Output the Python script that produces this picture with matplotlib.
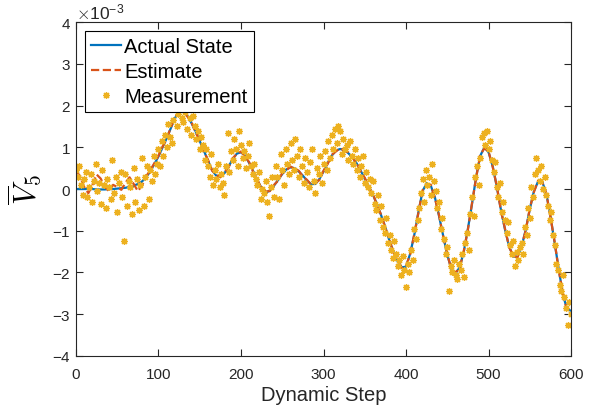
import numpy as np
import matplotlib.pyplot as plt
from matplotlib.ticker import ScalarFormatter

# values in units of 1e-3
state_steps = np.arange(0, 601, 5)
actual_state = [
    0.00, 0.00, 0.00, 0.00, 0.00, -0.01, -0.01, -0.01, 0.00, 0.00,
    0.01, 0.02, 0.03, 0.05, 0.08, 0.12, 0.18, 0.28, 0.42, 0.60,
    0.78, 1.00, 1.22, 1.46, 1.70, 1.86, 1.88, 1.76, 1.58, 1.38,
    1.15, 0.92, 0.68, 0.45, 0.32, 0.30, 0.38, 0.54, 0.72, 0.85,
    0.88, 0.80, 0.62, 0.42, 0.20, 0.02, -0.08, -0.04, 0.08, 0.22,
    0.36, 0.47, 0.52, 0.50, 0.42, 0.32, 0.20, 0.12, 0.12, 0.24,
    0.42, 0.62, 0.80, 0.92, 0.96, 0.94, 0.86, 0.76, 0.62, 0.44,
    0.25, 0.06, -0.14, -0.38, -0.64, -0.92, -1.25, -1.52, -1.74, -1.88,
    -1.86, -1.55, -1.10, -0.55, -0.05, 0.14, 0.08, -0.20, -0.65, -1.12,
    -1.58, -1.92, -2.02, -1.88, -1.50, -0.95, -0.35, 0.30, 0.80, 1.00,
    0.88, 0.55, 0.05, -0.50, -0.98, -1.38, -1.62, -1.62, -1.38, -0.98,
    -0.48, -0.05, 0.18, 0.18, -0.12, -0.65, -1.28, -1.92, -2.52, -2.88,
    -2.92,
]
estimate = [
    0.45, 0.30, 0.05, -0.10, 0.10, 0.35, 0.25, 0.05, -0.05, 0.10,
    0.05, -0.02, 0.15, 0.28, 0.12, -0.05, 0.08, 0.30, 0.45, 0.62,
    0.80, 1.02, 1.20, 1.48, 1.72, 1.84, 1.86, 1.74, 1.60, 1.36,
    1.16, 0.90, 0.70, 0.44, 0.34, 0.28, 0.40, 0.52, 0.74, 0.84,
    0.90, 0.78, 0.64, 0.40, 0.22, 0.00, -0.06, -0.05, 0.10, 0.20,
    0.38, 0.45, 0.54, 0.48, 0.44, 0.30, 0.22, 0.10, 0.14, 0.22,
    0.44, 0.60, 0.82, 0.90, 0.98, 0.92, 0.88, 0.74, 0.64, 0.42,
    0.27, 0.04, -0.12, -0.40, -0.62, -0.94, -1.23, -1.54, -1.72, -1.90,
    -1.84, -1.57, -1.08, -0.57, -0.03, 0.12, 0.10, -0.22, -0.63, -1.14,
    -1.56, -1.94, -2.00, -1.90, -1.48, -0.97, -0.33, 0.28, 0.82, 0.98,
    0.90, 0.53, 0.07, -0.52, -0.96, -1.40, -1.60, -1.64, -1.36, -1.00,
    -0.46, -0.07, 0.20, 0.16, -0.10, -0.67, -1.26, -1.94, -2.50, -2.90,
    -2.90,
]

meas_steps = np.arange(0, 601, 2)
measurement = [
    0.45, 0.30, 0.55, 0.10, -0.15, 0.25, 0.40, -0.20, 0.05, 0.35,
    -0.30, 0.20, 0.60, -0.05, 0.15, -0.35, 0.45, 0.10, -0.45, 0.25,
    0.05, -0.25, 0.70, -0.10, 0.30, -0.55, 0.15, 0.40, -0.20, -1.25,
    0.35, -0.40, 0.20, 0.05, -0.60, 0.50, -0.30, 0.25, -0.50, 0.10,
    0.75, -0.40, 0.30, 0.55, -0.25, 0.45, 0.20, 0.80, 0.35, 0.60,
    0.95, 0.55, 1.15, 0.80, 1.30, 1.00, 1.55, 1.25, 1.10, 1.65,
    1.95, 1.50, 1.80, 2.00, 1.70, 1.60, 1.85, 1.45, 1.95, 1.70,
    1.30, 1.75, 1.50, 1.20, 1.40, 0.95, 1.25, 1.05, 0.70, 0.95,
    0.55, 0.30, 0.85, 0.10, 0.45, 0.25, 0.60, 0.05, 0.35, 0.15,
    -0.15, 0.55, 1.35, 0.40, 0.90, 0.70, 1.20, 0.95, 0.55, 1.40,
    1.05, 0.75, 0.90, 0.50, 0.80, 1.10, 0.55, 0.35, 0.60, 0.25,
    0.10, 0.40, -0.25, 0.00, -0.10, 0.20, -0.30, -0.65, 0.05, 0.30,
    -0.20, 0.55, 0.30, -0.25, 0.85, 0.45, 0.10, 0.95, 0.60, 0.35,
    1.10, 0.70, 0.45, 1.20, 0.80, 0.30, 0.95, 0.55, 0.15, 0.75,
    0.40, 0.05, 0.65, 0.95, 0.20, -0.10, 0.50, 0.35, 0.80, 0.15,
    0.60, 0.90, 0.45, 1.15, 0.75, 1.30, 0.95, 1.45, 1.10, 1.50,
    1.40, 0.85, 1.20, 0.95, 1.05, 0.70, 1.15, 0.80, 0.60, 0.95,
    0.45, 0.75, 0.30, 0.55, 0.80, 0.15, 0.40, 0.05, 0.25, -0.10,
    0.20, -0.35, -0.50, -0.15, -0.75, -0.40, -0.90, -1.05, -0.70, -1.30,
    -1.10, -1.45, -1.65, -1.25, -1.55, -1.85, -1.70, -2.05, -1.60, -1.95,
    -2.35, -1.80, -2.00, -1.45, -1.70, -0.95, -1.20, -0.75, -0.45, -0.10,
    0.25, -0.30, 0.45, 0.10, 0.30, -0.15, 0.60, 0.20, -0.05, -0.45,
    -0.30, -0.95, -0.70, -1.20, -1.55, -1.40, -2.45, -1.85, -2.00, -1.70,
    -2.05, -2.15, -1.80, -1.95, -1.55, -2.10, -1.30, -1.05, -1.45, -0.60,
    -0.20, -0.65, 0.30, 0.55, 0.10, 0.75, 1.25, 1.35, 1.05, 1.40,
    0.95, 1.15, 0.70, 0.40, 0.65, 0.05, -0.20, 0.15, -0.55, -0.30,
    -0.75, -1.05, -0.80, -1.35, -1.55, -1.25, -1.85, -1.50, -1.70, -1.40,
    -1.30, -1.55, -0.90, -1.10, -0.45, -0.70, 0.05, -0.20, 0.35, 0.75,
    0.45, 0.20, 0.55, 0.00, 0.30, -0.15, -0.40, -0.75, -0.55, -1.10,
    -1.35, -1.80, -1.95, -2.30, -2.45, -2.05, -2.60, -2.85, -3.25, -2.70,
    -3.00,
]

x_ticks = [0, 100, 200, 300, 400, 500, 600]
y_ticks = [-4, -3, -2, -1, 0, 1, 2, 3, 4]

plt.rcParams['font.family'] = ['Liberation Sans', 'DejaVu Sans']
plt.rcParams['mathtext.fontset'] = 'cm'
plt.rcParams['axes.unicode_minus'] = False

fig = plt.figure(figsize=(5.98, 4.14), dpi=100)
ax = fig.add_axes([0.127, 0.138, 0.828, 0.806])

scale = 1e-3
ax.plot(state_steps, np.array(actual_state) * scale, color='#0072BD', lw=1.6,
        label='Actual State')
ax.plot(state_steps, np.array(estimate) * scale, color='#D95319', lw=1.6,
        ls='--', label='Estimate')
ax.plot(meas_steps, np.array(measurement) * scale, ls='none', marker=(8, 2, 0),
        ms=5, mew=0.9, mec='#EDB120', color='#EDB120', label='Measurement')

ax.set_xlim(0, 600)
ax.set_ylim(-4e-3, 4e-3)
ax.set_xticks(x_ticks)
ax.set_yticks(np.array(y_ticks) * scale)

fmt = ScalarFormatter(useMathText=True)
fmt.set_powerlimits((-3, -3))
ax.yaxis.set_major_formatter(fmt)
ax.yaxis.get_offset_text().set_fontsize(12.5)
ax.yaxis.get_offset_text().set_color('#262626')

ax.tick_params(direction='in', top=True, right=True, labelsize=11,
               colors='#262626', length=5, width=0.8)
ax.tick_params(axis='x', pad=8)
for s in ax.spines.values():
    s.set_color('#262626')
    s.set_linewidth(0.8)

ax.set_xlabel('Dynamic Step', fontsize=14.5, color='#262626', labelpad=3)
ax.set_ylabel(r'$\overline{V}_5$', fontsize=22, labelpad=6)

leg = ax.legend(loc='upper left', fontsize=14.5, frameon=True, fancybox=False,
                framealpha=1, edgecolor='black', handlelength=1.5,
                handletextpad=0.15, labelspacing=0.3, borderpad=0.3,
                borderaxespad=0.45)
leg.get_frame().set_linewidth(0.8)

fig.savefig('out.png', dpi=100)
